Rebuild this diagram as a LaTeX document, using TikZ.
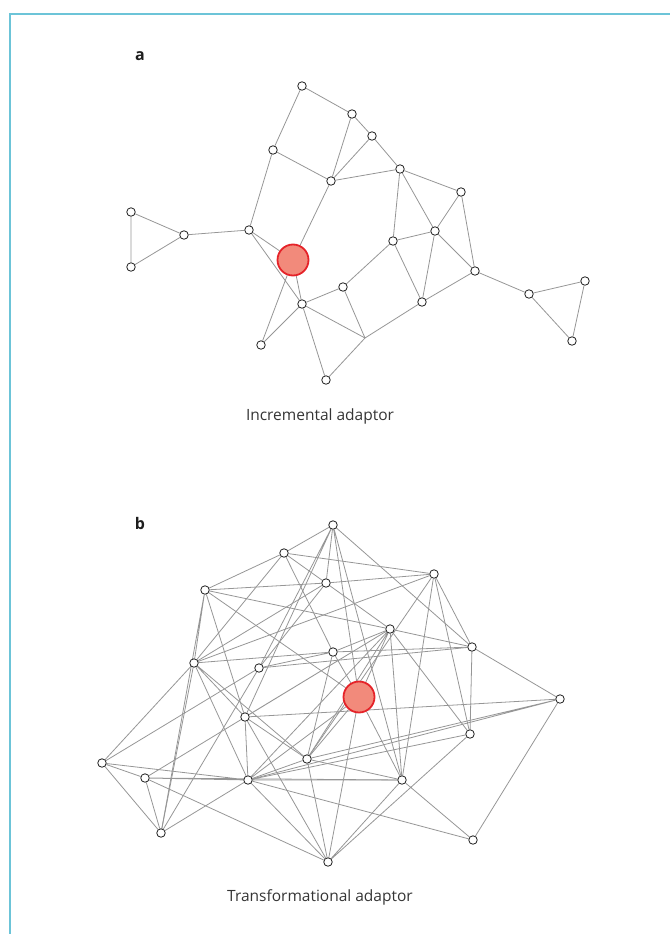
\documentclass[tikz,border=0pt]{standalone}
\usepackage{fontspec}
\setmainfont{Open Sans}
\usepackage{xcolor}
\usepackage{tikz}
\usetikzlibrary{backgrounds}
\definecolor{netgrey}{HTML}{969696}
\definecolor{netink}{HTML}{1E1E1E}
\definecolor{hubfill}{HTML}{F28A7B}
\definecolor{hubred}{HTML}{E52329}
\definecolor{framecyan}{HTML}{6CC4D8}

\begin{document}
\begin{tikzpicture}[
  x=1pt,y=-1pt,
  dot/.style={circle,draw=netink,fill=white,line width=0.8pt,inner sep=0pt,minimum size=8.5pt},
  hub/.style={circle,draw=hubred,fill=hubfill,line width=1.8pt,inner sep=0pt,minimum size=31pt},
  ln/.style={netgrey,line width=0.8pt},
  panel/.style={font=\bfseries\fontsize{16}{18}\selectfont,text=netink},
  caption/.style={font=\fontsize{15.5}{18}\selectfont,text=netink!90}]
  \useasboundingbox (0,0) rectangle (670,934);
  % frame
  \draw[framecyan,line width=1.3pt] (10,934) -- (10,14) -- (670,14);
  % a: incremental
  \node[panel] (pa) at (140,56) {a};
  \node[dot] (a1) at (302,86) {};
  \node[dot] (a2) at (352,114) {};
  \node[dot] (a3) at (372,136) {};
  \node[dot] (a4) at (273,150) {};
  \node[dot] (a5) at (331,181) {};
  \node[dot] (a6) at (400,169) {};
  \node[dot] (a7) at (461,192) {};
  \node[dot] (a8) at (131,212) {};
  \node[dot] (a9) at (184,235) {};
  \node[dot] (a10) at (249,230) {};
  \node[dot] (a11) at (435,231) {};
  \node[dot] (a12) at (393,241) {};
  \node[hub] (ah) at (293,260) {};
  \node[dot] (a13) at (131,267) {};
  \node[dot] (a14) at (475,271) {};
  \node[dot] (a15) at (343,287) {};
  \node[dot] (a16) at (529,294) {};
  \node[dot] (a17) at (585,281) {};
  \node[dot] (a18) at (422,302) {};
  \node[dot] (a19) at (302,304) {};
  \node[dot] (a20) at (572,341) {};
  \node[dot] (a21) at (261,345) {};
  \node[dot] (a22) at (326,380) {};
  \coordinate (aj) at (365,338);
  \node[caption] (ca) at (320,416) {Incremental adaptor};
  \begin{scope}[on background layer]
    \draw[ln] (a1)--(a2) (a1)--(a4) (a2)--(a3) (a2)--(a5) (a3)--(a5) (a3)--(a6);
    \draw[ln] (a4)--(a5) (a4)--(a10) (a5)--(a6) (a5)--(ah);
    \draw[ln] (a6)--(a7) (a6)--(a11) (a6)--(a12) (a7)--(a11) (a7)--(a14);
    \draw[ln] (a11)--(a12) (a11)--(a14) (a11)--(a18) (a12)--(a15) (a12)--(a18);
    \draw[ln] (a14)--(a18) (a14)--(a16) (a16)--(a17) (a16)--(a20) (a17)--(a20);
    \draw[ln] (a8)--(a9) (a8)--(a13) (a9)--(a13) (a9)--(a10);
    \draw[ln] (a10)--(ah) (a10)--(a19) (ah)--(a21) (ah)--(a19);
    \draw[ln] (a19)--(a21) (a19)--(a15) (a19)--(aj) (a19)--(a22);
    \draw[ln] (a15)--(aj) (aj)--(a22) (aj)--(a18);
  \end{scope}
  % b: transformational
  \node[panel] (pb) at (140,523) {b};
  \node[dot] (b1) at (333,525) {};
  \node[dot] (b2) at (284,553) {};
  \node[dot] (b3) at (326,583) {};
  \node[dot] (b4) at (205,590) {};
  \node[dot] (b5) at (333,652) {};
  \node[dot] (b6) at (194,663) {};
  \node[dot] (b7) at (259,668) {};
  \node[dot] (b8) at (434,574) {};
  \node[dot] (b9) at (390,629) {};
  \node[dot] (b10) at (472,647) {};
  \node[dot] (b11) at (560,699) {};
  \node[dot] (b12) at (245,717) {};
  \node[dot] (b13) at (307,759) {};
  \node[dot] (b14) at (102,763) {};
  \node[dot] (b15) at (145,778) {};
  \node[dot] (b16) at (248,780) {};
  \node[dot] (b17) at (161,833) {};
  \node[dot] (b18) at (328,862) {};
  \node[dot] (b19) at (470,734) {};
  \node[dot] (b20) at (402,780) {};
  \node[dot] (b21) at (473,840) {};
  \node[hub] (bh) at (359,697) {};
  \node[caption] (cb) at (320,897) {Transformational adaptor};
  \begin{scope}[on background layer]
    \draw[ln] (b1)--(b2) (b1)--(b3) (b1)--(b7) (b1)--(b12) (b1)--(bh) (b1)--(b20) (b1)--(b10);
    \draw[ln] (b2)--(b4) (b2)--(b3) (b2)--(b8) (b2)--(b6) (b2)--(b5);
    \draw[ln] (b3)--(b4) (b3)--(b8) (b3)--(b9) (b3)--(b6) (b3)--(b7);
    \draw[ln] (b4)--(b6) (b4)--(b9) (b4)--(b12) (b4)--(bh) (b4)--(b17);
    \draw[ln] (b5)--(b7) (b5)--(b6) (b5)--(b9) (b5)--(b10) (b5)--(bh) (b5)--(b13);
    \draw[ln] (b6)--(b14) (b6)--(b17) (b6)--(b12) (b6)--(b13) (b6)--(b8) (b6)--(b16);
    \draw[ln] (b7)--(b14) (b7)--(b17) (b7)--(b10);
    \draw[ln] (b8)--(b10) (b8)--(b20) (b8)--(b19) (b8)--(b13);
    \draw[ln] (b9)--(b10) (b9)--(bh) (b9)--(b12) (b9)--(b13) (b9)--(b16) (b9)--(b15) (b9)--(b19) (b9)--(b20);
    \draw[ln] (bh)--(b13) (bh)--(b16) (bh)--(b18) (bh)--(b20);
    \draw[ln] (b10)--(b11) (b10)--(b19) (b11)--(b12) (b11)--(b13) (b11)--(b16) (b11)--(b21);
    \draw[ln] (b12)--(b13) (b12)--(b16) (b12)--(b18) (b13)--(b18) (b13)--(b16) (b13)--(b20);
    \draw[ln] (b14)--(b15) (b14)--(b16) (b14)--(b17) (b15)--(b17) (b15)--(b16) (b15)--(b20) (b15)--(b18);
    \draw[ln] (b16)--(b17) (b16)--(b18) (b16)--(b20) (b16)--(b21) (b16)--(b19);
    \draw[ln] (b18)--(b20) (b18)--(b19) (b20)--(b21);
  \end{scope}
\end{tikzpicture}
\end{document}
